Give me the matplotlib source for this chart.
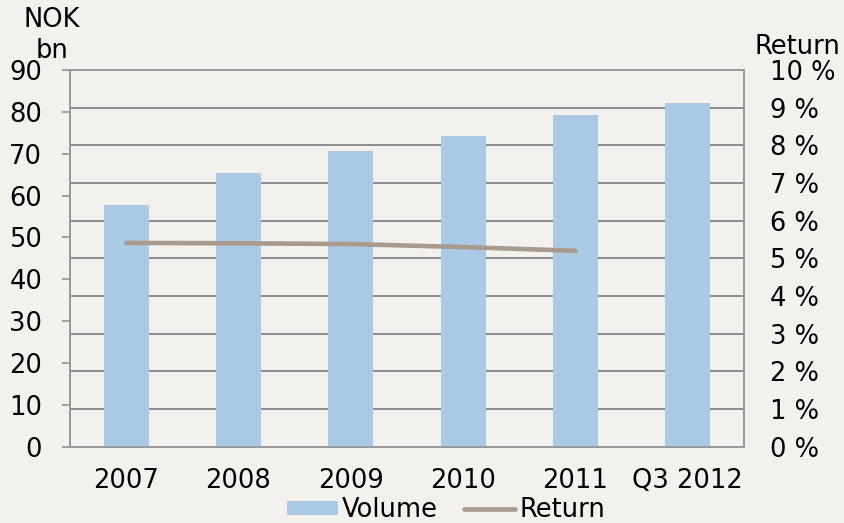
import numpy as np
import matplotlib.pyplot as plt
from matplotlib.lines import Line2D
from matplotlib.patches import Patch

# --- data ---
categories = ['2007', '2008', '2009', '2010', '2011', 'Q3 2012']
volume = [57.7, 65.4, 70.6, 74.2, 79.2, 82.1]          # NOK bn
ret = [5.41, 5.40, 5.38, 5.30, 5.20]                   # percent, 2007-2011
y_left_ticks = list(range(0, 100, 10))
y_right_ticks = list(range(0, 11, 1))

BG = '#F3F1ED'
BAR = '#A9C9E5'
LINE = '#A89A8C'
GRID = '#8C8C8C'

plt.rcParams['font.family'] = ['DejaVu Sans']
plt.rcParams['font.size'] = 18.5

fig = plt.figure(figsize=(8.45, 5.23), dpi=100, facecolor=BG)
ax = fig.add_axes([70/845, 1-446.7/523, 674/845, 376.7/523])
ax.set_facecolor(BG)
ax2 = ax.twinx()

x = np.arange(len(categories))

# gridlines follow the right (percent) axis
ax2.set_ylim(0, 10)
ax2.set_yticks(y_right_ticks)
ax2.set_yticklabels([f'{t} %' for t in y_right_ticks])
ax2.grid(True, color=GRID, lw=1.4)
ax2.set_axisbelow(True)

ax.set_ylim(0, 90)
ax.set_yticks(y_left_ticks)
ax.set_xlim(-0.5, len(categories) - 0.5)
ax.set_xticks(x)
ax.set_xticklabels(categories)

# bars on the front axes so they cover the gridlines
ax.set_zorder(ax2.get_zorder() + 1)
ax.patch.set_visible(False)
ax.bar(x, volume, width=0.4, color=BAR, zorder=2)
ax.plot(x[:len(ret)], np.array(ret) * 9, color=LINE, lw=3.3,
        solid_capstyle='round', zorder=3)

for a in (ax, ax2):
    for s in a.spines.values():
        s.set_color('#999999')
        s.set_linewidth(1.3)
ax.tick_params(axis='y', length=6, width=1.3, color='#999999', pad=14)
ax.tick_params(axis='x', length=0, pad=15)
ax2.tick_params(axis='y', length=0, pad=19)

fig.text(51.5/845, 1-20/523, 'NOK', ha='center', va='center')
fig.text(52/845, 1-51/523, 'bn', ha='center', va='center')
fig.text(797/845, 1-47/523, 'Return', ha='center', va='center')

handles = [Patch(facecolor=BAR, edgecolor='none'),
           Line2D([0], [0], color=LINE, lw=3.3, solid_capstyle='round')]
fig.legend(handles, ['Volume', 'Return'], loc='center',
           bbox_to_anchor=(446/845, 1-510/523), ncol=2, frameon=False,
           handlelength=2.0, handleheight=0.5, handletextpad=0.15,
           columnspacing=1.0, borderaxespad=0, borderpad=0)

fig.savefig('out.png', dpi=100, facecolor=BG)
